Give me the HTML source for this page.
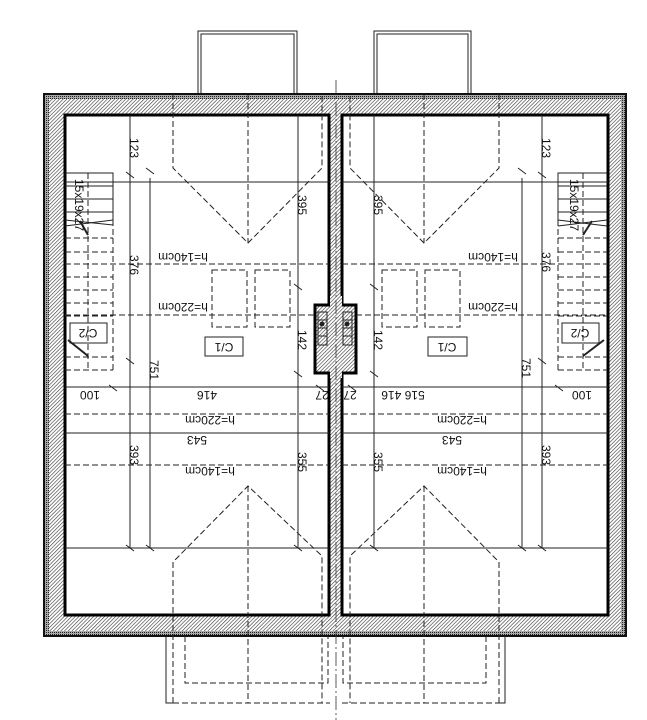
<!DOCTYPE html>
<html><head><meta charset="utf-8"><style>
html,body{margin:0;padding:0;background:#fff;}
svg{display:block;}
text{font-family:"Liberation Sans",sans-serif;font-size:12px;fill:#111;}
</style></head><body>
<svg width="647" height="720" viewBox="0 0 647 720" xmlns="http://www.w3.org/2000/svg">
<defs>
<pattern id="h" width="2.6" height="2.6" patternUnits="userSpaceOnUse" patternTransform="rotate(45)">
<rect width="2.6" height="2.6" fill="#fff"/><line x1="0" y1="0" x2="0" y2="2.6" stroke="#444" stroke-width="1.3"/>
</pattern>
<pattern id="d" width="2" height="2" patternUnits="userSpaceOnUse">
<rect width="2" height="2" fill="#aaa"/><rect width="1" height="1" fill="#222"/>
</pattern>
</defs>
<g fill="none" stroke="#222">
<rect x="198" y="31" width="99" height="63" stroke-width="1"/>
<rect x="201" y="34" width="93" height="60" stroke-width="1"/>
<rect x="374" y="31" width="97" height="63" stroke-width="1"/>
<rect x="377" y="34" width="91" height="60" stroke-width="1"/>
</g>
<rect x="44" y="94" width="582" height="542" fill="url(#h)"/>
<rect x="46.5" y="96.5" width="577" height="537" fill="none" stroke="url(#d)" stroke-width="5"/>
<rect x="44" y="94" width="582" height="542" fill="none" stroke="#111" stroke-width="2"/>
<rect x="65" y="115" width="264" height="500" fill="#fff" stroke="#000" stroke-width="3"/>
<rect x="342" y="115" width="266" height="500" fill="#fff" stroke="#000" stroke-width="3"/>
<rect x="315" y="305" width="41" height="68" fill="url(#h)" stroke="#000" stroke-width="3"/>
<rect x="330" y="296" width="12" height="12" fill="url(#h)"/>
<rect x="330" y="370" width="12" height="8" fill="url(#h)"/>
<g fill="url(#h)" stroke="#222" stroke-width="1">
<rect x="318" y="312" width="9" height="33"/><rect x="343" y="312" width="9" height="33"/>
</g>
<g stroke="#222" stroke-width="1">
<line x1="318" y1="320" x2="327" y2="320"/><line x1="318" y1="328" x2="327" y2="328"/><line x1="318" y1="336" x2="327" y2="336"/>
<line x1="343" y1="320" x2="352" y2="320"/><line x1="343" y1="328" x2="352" y2="328"/><line x1="343" y1="336" x2="352" y2="336"/>
</g>
<circle cx="322" cy="324" r="2.5" fill="#222"/><circle cx="347" cy="324" r="2.5" fill="#222"/>
<line x1="336" y1="80" x2="336" y2="720" stroke="#333" stroke-width="0.8" stroke-dasharray="14 3 2 3"/>
<g fill="none" stroke="#222" stroke-width="1" stroke-dasharray="6 3">
<polyline points="173,94 173,168 248,243 322,168 322,94"/>
<line x1="248" y1="94" x2="248" y2="243"/>
<polyline points="173,703 173,562 248,486 322,556 322,703"/>
<line x1="248" y1="486" x2="248" y2="703"/>
<polyline points="185,636 185,683 328,683 328,636"/>
<polyline points="173,703 330,703"/>
<polyline points="499,94 499,168 424,243 350,168 350,94"/>
<line x1="424" y1="94" x2="424" y2="243"/>
<polyline points="499,703 499,562 424,486 350,556 350,703"/>
<line x1="424" y1="486" x2="424" y2="703"/>
<polyline points="486,636 486,683 343,683 343,636"/>
<polyline points="342,703 499,703"/>
<line x1="65" y1="264" x2="329" y2="264"/><line x1="342" y1="264" x2="608" y2="264"/>
<line x1="65" y1="315" x2="315" y2="315"/><line x1="356" y1="315" x2="608" y2="315"/>
<line x1="65" y1="414" x2="329" y2="414"/><line x1="342" y1="414" x2="608" y2="414"/>
<line x1="65" y1="465" x2="329" y2="465"/><line x1="342" y1="465" x2="608" y2="465"/>
<rect x="212" y="270" width="35" height="57"/><rect x="255" y="270" width="35" height="57"/>
<rect x="382" y="270" width="35" height="57"/><rect x="425" y="270" width="35" height="57"/>
<line x1="88" y1="173" x2="88" y2="370"/><line x1="113" y1="220" x2="113" y2="370"/>
<line x1="583" y1="173" x2="583" y2="370"/><line x1="558" y1="220" x2="558" y2="370"/>
<line x1="65" y1="238" x2="113" y2="238"/><line x1="65" y1="252" x2="113" y2="252"/><line x1="65" y1="277" x2="113" y2="277"/><line x1="65" y1="290" x2="113" y2="290"/><line x1="65" y1="303" x2="113" y2="303"/><line x1="65" y1="316" x2="113" y2="316"/><line x1="65" y1="357" x2="113" y2="357"/><line x1="65" y1="370" x2="113" y2="370"/>
<line x1="558" y1="238" x2="607" y2="238"/><line x1="558" y1="252" x2="607" y2="252"/><line x1="558" y1="277" x2="607" y2="277"/><line x1="558" y1="290" x2="607" y2="290"/><line x1="558" y1="303" x2="607" y2="303"/><line x1="558" y1="316" x2="607" y2="316"/><line x1="558" y1="357" x2="607" y2="357"/><line x1="558" y1="370" x2="607" y2="370"/>
</g>
<g fill="none" stroke="#222" stroke-width="1">
<polyline points="166,636 166,703 173,703"/><polyline points="505,636 505,703 499,703"/>
<line x1="65" y1="182" x2="329" y2="182"/><line x1="342" y1="182" x2="608" y2="182"/>
<line x1="65" y1="387" x2="329" y2="387"/><line x1="342" y1="387" x2="608" y2="387"/>
<line x1="65" y1="433" x2="329" y2="433"/><line x1="342" y1="433" x2="608" y2="433"/>
<line x1="65" y1="548" x2="329" y2="548"/><line x1="342" y1="548" x2="608" y2="548"/>
<line x1="130" y1="115" x2="130" y2="548"/><line x1="150" y1="178" x2="150" y2="548"/><line x1="298" y1="115" x2="298" y2="548"/>
<line x1="374" y1="115" x2="374" y2="548"/><line x1="522" y1="178" x2="522" y2="548"/><line x1="542" y1="115" x2="542" y2="548"/>
<polyline points="65,173 113,173 113,220"/><line x1="65" y1="186" x2="113" y2="186"/><line x1="65" y1="199" x2="113" y2="199"/><line x1="65" y1="212" x2="113" y2="212"/>
<polyline points="607,173 558,173 558,220"/><line x1="558" y1="186" x2="607" y2="186"/><line x1="558" y1="199" x2="607" y2="199"/><line x1="558" y1="212" x2="607" y2="212"/>
<line x1="65" y1="220" x2="113" y2="225"/><line x1="65" y1="226" x2="113" y2="220"/>
<line x1="558" y1="220" x2="607" y2="226"/><line x1="558" y1="226" x2="607" y2="220"/>
<line x1="88" y1="235" x2="80" y2="221" stroke-width="2"/><line x1="583" y1="235" x2="592" y2="221" stroke-width="2"/>
<line x1="68" y1="340" x2="88" y2="356" stroke-width="2"/><line x1="604" y1="340" x2="583" y2="356" stroke-width="2"/>
<rect x="205" y="337" width="38" height="19"/><rect x="428" y="337" width="39" height="19"/>
<rect x="70" y="323" width="37" height="20"/><rect x="562" y="323" width="37" height="20"/>
<path d="M126,172l8,6M146,168l8,6M294,284l8,6M294,371l8,6M126,358l8,6M109,385l8,6M316,385l8,6M126,545l8,6M146,545l8,6M294,545l8,6"/>
<path d="M538,172l8,6M518,168l8,6M370,284l8,6M370,371l8,6M538,358l8,6M555,385l8,6M348,385l8,6M538,545l8,6M518,545l8,6M370,545l8,6"/>
</g>
<g>
<text transform="rotate(180,183,257)" x="183" y="257" text-anchor="middle" dy="4">h=140cm</text>
<text transform="rotate(180,183,307)" x="183" y="307" text-anchor="middle" dy="4">h=220cm</text>
<text transform="rotate(180,210,420)" x="210" y="420" text-anchor="middle" dy="4">h=220cm</text>
<text transform="rotate(180,210,471)" x="210" y="471" text-anchor="middle" dy="4">h=140cm</text>
<text transform="rotate(180,197,440)" x="197" y="440" text-anchor="middle" dy="4">543</text>
<text transform="rotate(180,207,395)" x="207" y="395" text-anchor="middle" dy="4">416</text>
<text transform="rotate(180,90,395)" x="90" y="395" text-anchor="middle" dy="4">100</text>
<text transform="rotate(180,322,395)" x="322" y="395" text-anchor="middle" dy="4">27</text>
<text transform="rotate(180,224,347)" x="224" y="347" text-anchor="middle" dy="4">C/1</text>
<text transform="rotate(180,88,333)" x="88" y="333" text-anchor="middle" dy="4">C/2</text>
<text transform="rotate(180,493,257)" x="493" y="257" text-anchor="middle" dy="4">h=140cm</text>
<text transform="rotate(180,493,307)" x="493" y="307" text-anchor="middle" dy="4">h=220cm</text>
<text transform="rotate(180,462,420)" x="462" y="420" text-anchor="middle" dy="4">h=220cm</text>
<text transform="rotate(180,462,471)" x="462" y="471" text-anchor="middle" dy="4">h=140cm</text>
<text transform="rotate(180,452,440)" x="452" y="440" text-anchor="middle" dy="4">543</text>
<text transform="rotate(180,403,395)" x="403" y="395" text-anchor="middle" dy="4">516 416</text>
<text transform="rotate(180,582,395)" x="582" y="395" text-anchor="middle" dy="4">100</text>
<text transform="rotate(180,350,395)" x="350" y="395" text-anchor="middle" dy="4">27</text>
<text transform="rotate(180,447,347)" x="447" y="347" text-anchor="middle" dy="4">C/1</text>
<text transform="rotate(180,580,333)" x="580" y="333" text-anchor="middle" dy="4">C/2</text>
<text transform="rotate(90,134,148)" x="134" y="148" text-anchor="middle" dy="4">123</text>
<text transform="rotate(90,134,265)" x="134" y="265" text-anchor="middle" dy="4">376</text>
<text transform="rotate(90,154,370)" x="154" y="370" text-anchor="middle" dy="4">751</text>
<text transform="rotate(90,134,455)" x="134" y="455" text-anchor="middle" dy="4">393</text>
<text transform="rotate(90,302,205)" x="302" y="205" text-anchor="middle" dy="4">395</text>
<text transform="rotate(90,302,340)" x="302" y="340" text-anchor="middle" dy="4">142</text>
<text transform="rotate(90,302,462)" x="302" y="462" text-anchor="middle" dy="4">355</text>
<text transform="rotate(90,79,205)" x="79" y="205" text-anchor="middle" dy="4">15x19x27</text>
<text transform="rotate(90,378,205)" x="378" y="205" text-anchor="middle" dy="4">395</text>
<text transform="rotate(90,378,340)" x="378" y="340" text-anchor="middle" dy="4">142</text>
<text transform="rotate(90,378,462)" x="378" y="462" text-anchor="middle" dy="4">355</text>
<text transform="rotate(90,546,148)" x="546" y="148" text-anchor="middle" dy="4">123</text>
<text transform="rotate(90,546,262)" x="546" y="262" text-anchor="middle" dy="4">376</text>
<text transform="rotate(90,526,368)" x="526" y="368" text-anchor="middle" dy="4">751</text>
<text transform="rotate(90,546,455)" x="546" y="455" text-anchor="middle" dy="4">393</text>
<text transform="rotate(90,574,205)" x="574" y="205" text-anchor="middle" dy="4">15x19x27</text>
</g>
</svg>
</body></html>
